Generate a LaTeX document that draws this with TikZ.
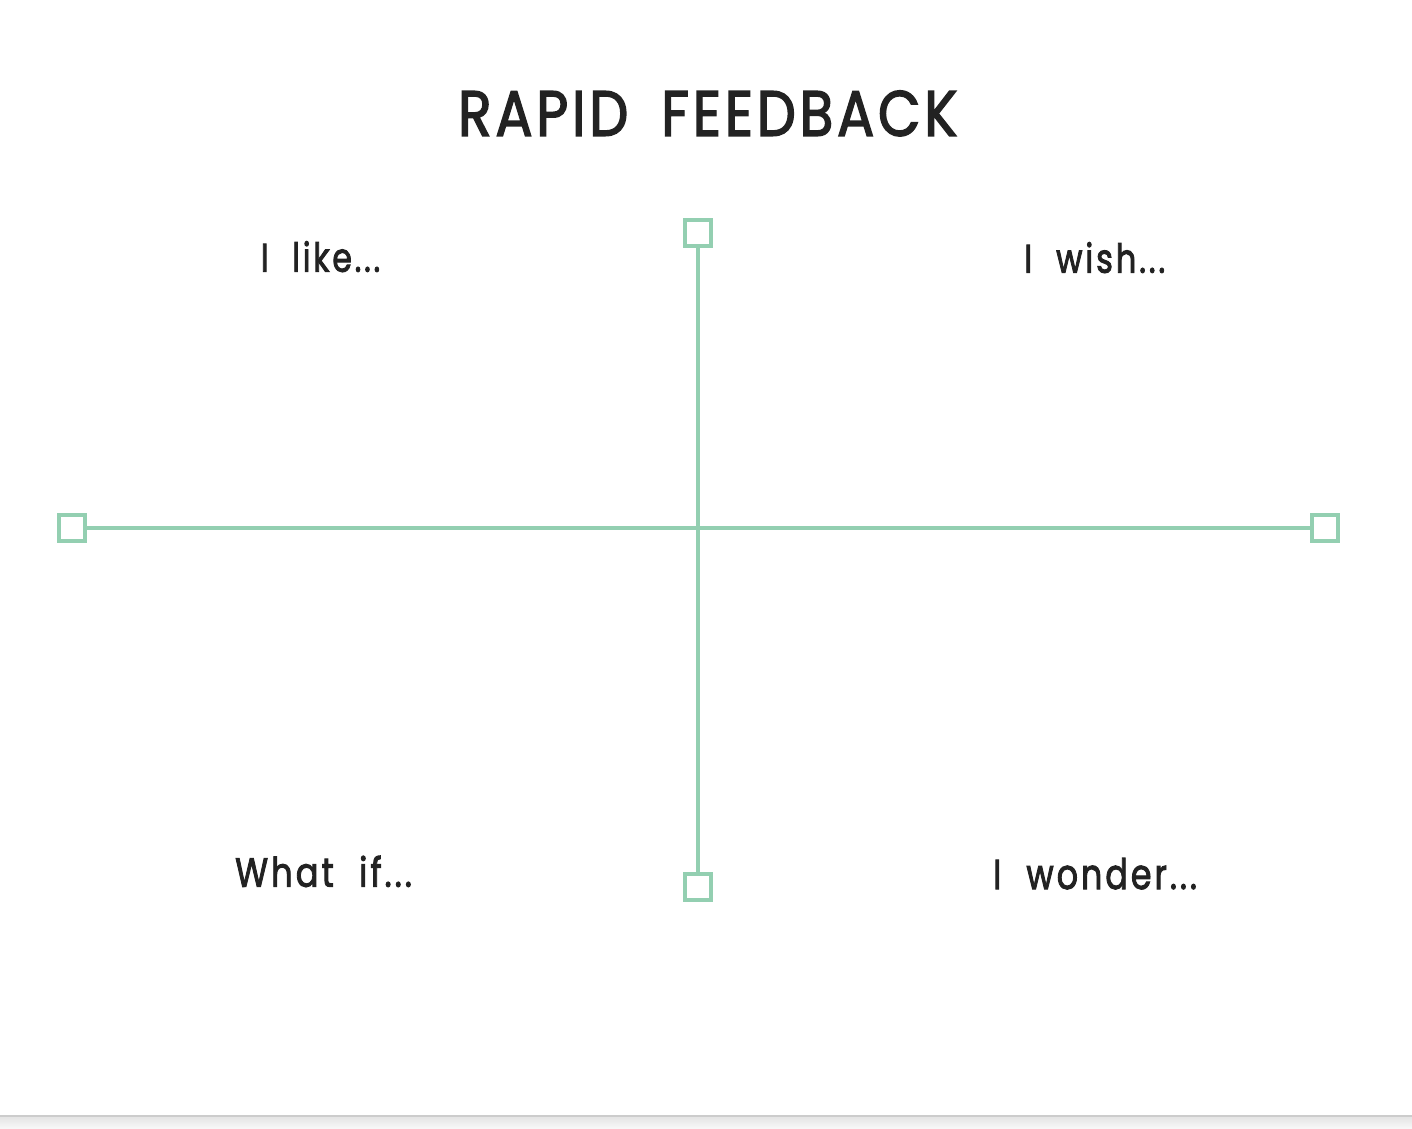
\documentclass[tikz,border=0pt]{standalone}
\usepackage{fontspec}
\setmainfont{Poppins}[FakeBold=2.5, LetterSpace=9]
\newfontfamily\titlefont{Poppins}[FakeBold=2.5, LetterSpace=7]
\usepackage{graphicx}
\usetikzlibrary{positioning}
\definecolor{axisgreen}{HTML}{93CFB1}
\definecolor{inkdark}{HTML}{222222}
\tikzset{
  endbox/.style={draw=axisgreen, line width=4pt, minimum size=26pt, inner sep=0pt, fill=white},
  axis/.style={draw=axisgreen, line width=3.5pt},
  label/.style={anchor=base west, inner sep=0pt, text=inkdark},
}
\begin{document}
\begin{tikzpicture}[x=1pt,y=-1pt]
\useasboundingbox (0,0) rectangle (1412,1128);
\fill[white] (0,0) rectangle (1412,1128);
% bottom edge
\fill[black!20] (0,1115) rectangle (1412,1117.5);
\shade[top color=black!10, bottom color=black!3] (0,1117.5) rectangle (1412,1128);
% title
\node[label] (title) at (458,135.7) {\resizebox{499pt}{45pt}{\titlefont RAPID\hspace{0.6em}FEEDBACK}};
% end boxes
\node[endbox] (top) at (698,232.5) {};
\node[endbox] (bottom) at (698,887) {};
\node[endbox] (left) at (71.5,528) {};
\node[endbox] (right) at (1325,528) {};
% axes
\draw[axis] (top.south) -- (bottom.north);
\draw[axis] (left.east) -- (right.west);
% labels
\node[label] (like) at (260.7,271.7) {\resizebox{119.3pt}{30.5pt}{I\hspace{0.75em}like...}};
\node[label] (wish) at (1024,272.7) {\resizebox{141pt}{30.5pt}{I\hspace{0.75em}wish...}};
\node[label] (whatif) at (235,886.7) {\resizebox{176.7pt}{31pt}{What\hspace{0.75em}if...}};
\node[label] (wonder) at (993,889) {\resizebox{203.7pt}{31pt}{I\hspace{0.75em}wonder...}};
\end{tikzpicture}
\end{document}
